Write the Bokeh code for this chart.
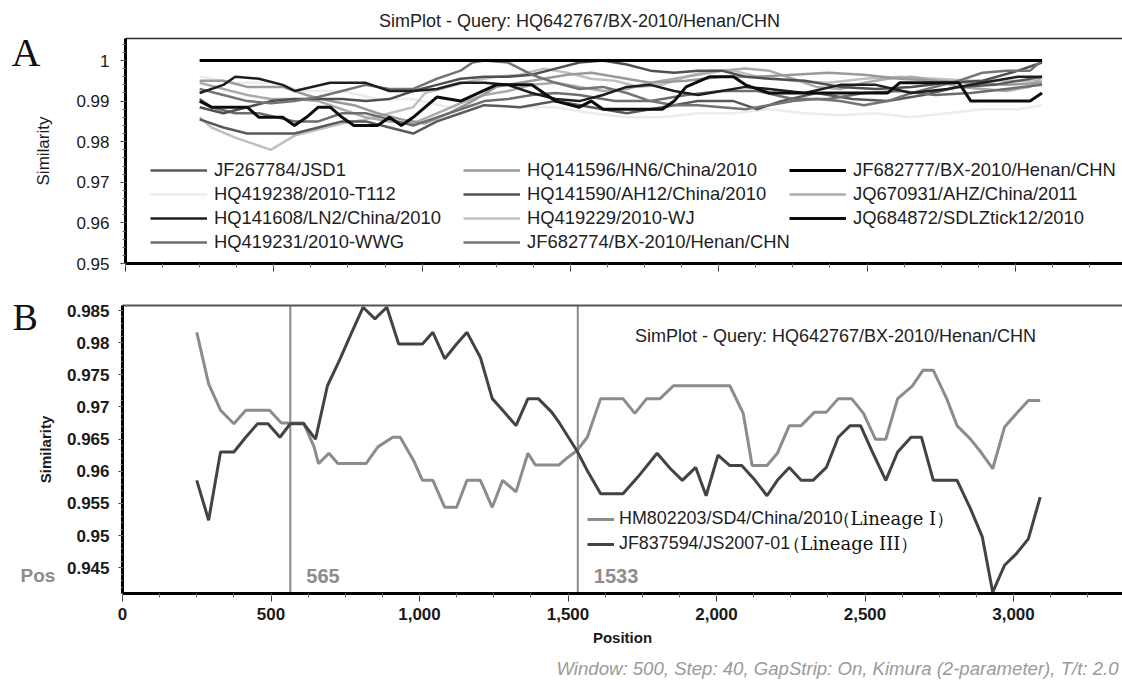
from bokeh.plotting import figure
from bokeh.models import (Range1d, LinearAxis, FixedTicker, SingleIntervalTicker, Label,
                          Legend, LegendItem, NumeralTickFormatter)
from bokeh.layouts import column
from bokeh.embed import file_html
from bokeh.resources import INLINE

FONT = "Liberation Sans"
SERIF = "Liberation Serif"

# ---------------- Panel A data ----------------
TITLE = "SimPlot - Query: HQ642767/BX-2010/Henan/CHN"
A_YTICKS = [0.95, 0.96, 0.97, 0.98, 0.99, 1.0]
A_YLABELS = ["0.95", "0.96", "0.97", "0.98", "0.99", "1"]

A_JF267784_X = [250, 330, 410, 570, 650, 730, 810, 890, 970, 1050, 1130, 1210, 1330, 1450, 1570, 1690, 1810, 1930, 2050, 2130, 2210, 2330, 2450, 2570, 2690, 2810, 2930, 3090]
A_JF267784_Y = [0.9855, 0.9835, 0.9820, 0.9820, 0.9835, 0.9850, 0.9850, 0.9835, 0.9820, 0.9850, 0.9870, 0.9890, 0.9885, 0.9900, 0.9885, 0.9870, 0.9885, 0.9900, 0.9900, 0.9880, 0.9900, 0.9920, 0.9905, 0.9900, 0.9915, 0.9935, 0.9940, 0.9960]

A_HQ419238_X = [250, 370, 490, 610, 730, 850, 970, 1090, 1210, 1330, 1450, 1570, 1690, 1810, 1930, 2050, 2170, 2290, 2410, 2530, 2650, 2770, 2890, 3010, 3090]
A_HQ419238_Y = [0.9960, 0.9945, 0.9945, 0.9925, 0.9925, 0.9905, 0.9905, 0.9885, 0.9890, 0.9885, 0.9885, 0.9870, 0.9860, 0.9860, 0.9870, 0.9870, 0.9880, 0.9870, 0.9865, 0.9870, 0.9860, 0.9870, 0.9880, 0.9880, 0.9890]

A_HQ141608_X = [250, 330, 370, 450, 530, 570, 690, 730, 810, 890, 970, 1050, 1130, 1210, 1290, 1370, 1450, 1530, 1610, 1690, 1770, 1850, 1930, 2010, 2090, 2170, 2290, 2410, 2530, 2650, 2770, 2890, 3010, 3090]
A_HQ141608_Y = [0.9920, 0.9940, 0.9960, 0.9955, 0.9940, 0.9925, 0.9945, 0.9945, 0.9945, 0.9925, 0.9925, 0.9930, 0.9945, 0.9945, 0.9940, 0.9920, 0.9905, 0.9900, 0.9915, 0.9935, 0.9940, 0.9925, 0.9915, 0.9925, 0.9935, 0.9930, 0.9920, 0.9940, 0.9940, 0.9920, 0.9930, 0.9945, 0.9960, 0.9960]

A_HQ419231_X = [250, 290, 370, 450, 570, 650, 730, 810, 890, 970, 1050, 1130, 1210, 1290, 1370, 1450, 1530, 1650, 1770, 1890, 2010, 2130, 2250, 2370, 2490, 2610, 2730, 2850, 2970, 3090]
A_HQ419231_Y = [0.9905, 0.9885, 0.9870, 0.9870, 0.9850, 0.9850, 0.9870, 0.9870, 0.9855, 0.9840, 0.9860, 0.9880, 0.9900, 0.9905, 0.9915, 0.9920, 0.9915, 0.9900, 0.9900, 0.9915, 0.9925, 0.9925, 0.9905, 0.9905, 0.9920, 0.9925, 0.9915, 0.9920, 0.9930, 0.9940]

A_HQ141596_X = [250, 330, 410, 530, 610, 690, 770, 850, 930, 1010, 1090, 1170, 1250, 1330, 1410, 1490, 1570, 1650, 1770, 1890, 2010, 2130, 2250, 2370, 2490, 2610, 2730, 2850, 2970, 3090]
A_HQ141596_Y = [0.9950, 0.9950, 0.9935, 0.9935, 0.9915, 0.9900, 0.9890, 0.9870, 0.9855, 0.9845, 0.9870, 0.9900, 0.9935, 0.9945, 0.9955, 0.9965, 0.9970, 0.9960, 0.9945, 0.9950, 0.9960, 0.9960, 0.9965, 0.9970, 0.9965, 0.9955, 0.9950, 0.9945, 0.9940, 0.9945]

A_HQ141590_X = [250, 330, 410, 490, 570, 650, 730, 810, 890, 970, 1050, 1130, 1210, 1290, 1370, 1450, 1530, 1610, 1690, 1770, 1850, 1930, 2010, 2090, 2170, 2290, 2410, 2530, 2650, 2770, 2890, 3010, 3090]
A_HQ141590_Y = [0.9885, 0.9870, 0.9885, 0.9900, 0.9905, 0.9905, 0.9905, 0.9900, 0.9905, 0.9925, 0.9940, 0.9955, 0.9960, 0.9960, 0.9965, 0.9980, 0.9995, 1.0000, 0.9990, 0.9975, 0.9970, 0.9975, 0.9975, 0.9960, 0.9955, 0.9950, 0.9935, 0.9930, 0.9935, 0.9945, 0.9950, 0.9975, 0.9995]

A_HQ419229_X = [250, 290, 370, 450, 490, 570, 650, 730, 810, 890, 970, 1010, 1090, 1170, 1250, 1330, 1410, 1490, 1570, 1650, 1730, 1810, 1890, 1970, 2050, 2130, 2250, 2370, 2490, 2610, 2730, 2850, 2970, 3090]
A_HQ419229_Y = [0.9860, 0.9835, 0.9810, 0.9790, 0.9780, 0.9815, 0.9830, 0.9845, 0.9855, 0.9870, 0.9885, 0.9920, 0.9935, 0.9950, 0.9960, 0.9965, 0.9980, 0.9970, 0.9955, 0.9950, 0.9935, 0.9940, 0.9960, 0.9975, 0.9975, 0.9960, 0.9950, 0.9945, 0.9955, 0.9960, 0.9955, 0.9950, 0.9950, 0.9950]

A_JF682774_X = [250, 330, 410, 490, 570, 650, 730, 810, 890, 970, 1050, 1130, 1170, 1210, 1290, 1370, 1450, 1530, 1610, 1690, 1770, 1850, 1930, 2010, 2090, 2170, 2250, 2330, 2410, 2490, 2570, 2650, 2730, 2810, 2890, 2970, 3050, 3090]
A_JF682774_Y = [0.9930, 0.9915, 0.9900, 0.9895, 0.9900, 0.9910, 0.9925, 0.9940, 0.9930, 0.9930, 0.9955, 0.9975, 0.9995, 1.0000, 0.9995, 0.9965, 0.9945, 0.9930, 0.9935, 0.9920, 0.9900, 0.9890, 0.9890, 0.9885, 0.9880, 0.9890, 0.9900, 0.9905, 0.9900, 0.9890, 0.9900, 0.9920, 0.9935, 0.9950, 0.9970, 0.9975, 0.9975, 1.0000]

A_JF682777_X = [250, 3090]
A_JF682777_Y = [1.0, 1.0]

A_JQ670931_X = [250, 330, 410, 490, 570, 650, 730, 810, 890, 970, 1050, 1130, 1210, 1290, 1370, 1450, 1530, 1610, 1690, 1770, 1850, 1930, 2010, 2090, 2170, 2250, 2330, 2410, 2490, 2570, 2650, 2730, 2810, 2890, 2970, 3050, 3090]
A_JQ670931_Y = [0.9945, 0.9930, 0.9915, 0.9905, 0.9905, 0.9900, 0.9880, 0.9860, 0.9850, 0.9845, 0.9870, 0.9895, 0.9915, 0.9925, 0.9940, 0.9945, 0.9935, 0.9925, 0.9930, 0.9945, 0.9955, 0.9965, 0.9975, 0.9980, 0.9975, 0.9955, 0.9935, 0.9930, 0.9945, 0.9955, 0.9960, 0.9950, 0.9935, 0.9930, 0.9925, 0.9935, 0.9960]

A_JQ684872_X = [250, 290, 410, 450, 530, 570, 610, 650, 690, 730, 770, 850, 890, 930, 970, 1050, 1130, 1250, 1290, 1370, 1410, 1450, 1530, 1570, 1610, 1810, 1850, 1890, 1970, 2050, 2090, 2170, 2570, 2610, 2810, 2850, 3050, 3090]
A_JQ684872_Y = [0.9900, 0.9885, 0.9885, 0.9860, 0.9860, 0.9840, 0.9860, 0.9885, 0.9885, 0.9860, 0.9840, 0.9840, 0.9860, 0.9840, 0.9860, 0.9910, 0.9900, 0.9940, 0.9940, 0.9940, 0.9920, 0.9900, 0.9885, 0.9900, 0.9880, 0.9880, 0.9900, 0.9935, 0.9960, 0.9960, 0.9940, 0.9920, 0.9920, 0.9945, 0.9945, 0.9900, 0.9900, 0.9920]

A_NAMES = ["JF267784/JSD1", "HQ419238/2010-T112", "HQ141608/LN2/China/2010", "HQ419231/2010-WWG",
           "HQ141596/HN6/China/2010", "HQ141590/AH12/China/2010", "HQ419229/2010-WJ", "JF682774/BX-2010/Henan/CHN",
           "JF682777/BX-2010/Henan/CHN", "JQ670931/AHZ/China/2011", "JQ684872/SDLZtick12/2010"]
A_COLORS = ["#5a5a5a", "#ececec", "#1e1e1e", "#6e6e6e",
            "#9a9a9a", "#505050", "#c0c0c0", "#747474",
            "#000000", "#ababab", "#0c0c0c"]
A_XS = [A_JF267784_X, A_HQ419238_X, A_HQ141608_X, A_HQ419231_X, A_HQ141596_X, A_HQ141590_X,
        A_HQ419229_X, A_JF682774_X, A_JF682777_X, A_JQ670931_X, A_JQ684872_X]
A_YS = [A_JF267784_Y, A_HQ419238_Y, A_HQ141608_Y, A_HQ419231_Y, A_HQ141596_Y, A_HQ141590_Y,
        A_HQ419229_Y, A_JF682774_Y, A_JF682777_Y, A_JQ670931_Y, A_JQ684872_Y]
A_DRAW_ORDER = [1, 6, 9, 4, 0, 3, 5, 7, 2, 10, 8]
A_LEGEND_COLS = [[0, 1, 2, 3], [4, 5, 6, 7], [8, 9, 10]]

# ---------------- Panel B data ----------------
B_YTICKS = [0.945, 0.95, 0.955, 0.96, 0.965, 0.97, 0.975, 0.98, 0.985]
B_YLABELS = ["0.945", "0.95", "0.955", "0.96", "0.965", "0.97", "0.975", "0.98", "0.985"]
BREAKPOINTS = [565, 1533]

B_HM802203_X = [250, 290, 330, 375, 415, 495, 535, 610, 645, 660, 695, 725, 820, 860, 910, 935, 980, 1010, 1045, 1085,
                1125, 1160, 1205, 1245, 1280, 1325, 1365, 1390, 1470, 1500, 1530, 1565, 1610, 1685, 1725, 1765, 1810, 1855, 2045, 2090,
                2120, 2170, 2205, 2245, 2285, 2330, 2370, 2410, 2455, 2495, 2535, 2570, 2610, 2660, 2695, 2730, 2775, 2810, 2855, 2890,
                2930, 2970, 3010, 3050, 3090]
B_HM802203_Y = [0.9816, 0.9736, 0.9695, 0.9674, 0.9695, 0.9695, 0.9675, 0.9675, 0.9638, 0.9612,
                0.9628, 0.9612, 0.9612, 0.9638, 0.9653, 0.9653, 0.9617, 0.9586, 0.9586, 0.9544,
                0.9544, 0.9586, 0.9586, 0.9544, 0.9586, 0.9568, 0.9628, 0.9610, 0.9610, 0.9622,
                0.9632, 0.9653, 0.9713, 0.9713, 0.9690, 0.9713, 0.9713, 0.9733, 0.9733, 0.9690,
                0.9609, 0.9609, 0.9628, 0.9671, 0.9671, 0.9692, 0.9692, 0.9713, 0.9713, 0.9690,
                0.9650, 0.9650, 0.9713, 0.9733, 0.9757, 0.9757, 0.9713, 0.9671, 0.9650, 0.9630,
                0.9604, 0.9669, 0.9690, 0.9710, 0.9710]

B_JF837594_X = [250, 290, 330, 375, 415, 455, 490, 530, 565, 610, 650, 690, 730, 770, 810, 850, 890, 930, 1010, 1045,
                1085, 1125, 1160, 1205, 1245, 1280, 1325, 1365, 1400, 1445, 1470, 1530, 1565, 1610, 1685, 1735, 1800, 1845, 1885, 1930,
                1965, 2005, 2045, 2085, 2130, 2170, 2205, 2245, 2285, 2325, 2370, 2410, 2450, 2485, 2525, 2570, 2610, 2655, 2690, 2730,
                2775, 2810, 2855, 2895, 2930, 2970, 3010, 3050, 3090]
B_JF837594_Y = [0.9586, 0.9524, 0.9630, 0.9630, 0.9653, 0.9674, 0.9674, 0.9653, 0.9674, 0.9674,
                0.9650, 0.9733, 0.9772, 0.9814, 0.9855, 0.9837, 0.9855, 0.9798, 0.9798, 0.9816,
                0.9775, 0.9798, 0.9816, 0.9777, 0.9713, 0.9695, 0.9671, 0.9713, 0.9713, 0.9692,
                0.9676, 0.9632, 0.9601, 0.9565, 0.9565, 0.9591, 0.9628, 0.9604, 0.9586, 0.9606,
                0.9562, 0.9625, 0.9609, 0.9609, 0.9586, 0.9562, 0.9586, 0.9606, 0.9586, 0.9586,
                0.9606, 0.9653, 0.9671, 0.9671, 0.9630, 0.9586, 0.9630, 0.9653, 0.9653, 0.9586,
                0.9586, 0.9586, 0.9542, 0.9498, 0.9412, 0.9454, 0.9472, 0.9495, 0.9560]

B_NAMES = ["HM802203/SD4/China/2010", "JF837594/JS2007-01"]
B_LINEAGE = ["（Lineage I）", "（Lineage III）"]
B_COLORS = ["#8c8c8c", "#434343"]
FOOTER = "Window: 500, Step: 40, GapStrip: On, Kimura (2-parameter), T/t: 2.0"

# ---------------- layout geometry (pixels) ----------------
W = 1122
HA, HB = 290, 392


def lin_range(v_a, px_a, v_b, px_b, size):
    k = (v_b - v_a) / (px_b - px_a)
    return v_a - px_a * k, v_a + (size - px_a) * k, k


def base_fig(h, xr, yr):
    p = figure(width=W, height=h, output_backend="svg", toolbar_location=None,
               x_axis_type=None, y_axis_type=None,
               x_range=Range1d(*xr), y_range=Range1d(*yr),
               min_border=0, min_border_left=0, min_border_right=0,
               min_border_top=0, min_border_bottom=0)
    p.outline_line_color = None
    p.background_fill_color = "white"
    p.border_fill_color = "white"
    return p


def style_axis(ax, lw=3):
    ax.axis_line_width = lw
    ax.axis_line_color = "black"
    ax.major_tick_in = 0
    ax.minor_tick_in = 0
    ax.major_tick_line_color = "#333333"
    ax.minor_tick_line_color = "#666666"


# ---------------- Figure A ----------------
ax0, ax1, _ = lin_range(0, 125, 500, 273.3, W)
ay0, ay1, aky = lin_range(0.95, 27, 1.0, 230, HA)
A_TOP = 0.95 + (252 - 27) * aky
pA = base_fig(HA, (ax0, ax1), (ay0, ay1))

ya = LinearAxis(fixed_location=0, bounds=(0.95, A_TOP),
                ticker=FixedTicker(ticks=A_YTICKS, minor_ticks=[round(0.95 + 0.002 * i, 4) for i in range(28)]))
ya.major_label_overrides = {t: s for t, s in zip(A_YTICKS, A_YLABELS)}
style_axis(ya)
ya.major_tick_out = 5
ya.minor_tick_out = 3
ya.major_label_text_font = FONT
ya.major_label_text_font_size = "17px"
ya.major_label_text_color = "#1a1a1a"
ya.major_label_standoff = 11
ya.axis_label = "Similarity"
ya.axis_label_text_font = FONT
ya.axis_label_text_font_size = "17px"
ya.axis_label_text_font_style = "normal"
ya.axis_label_text_color = "#1a1a1a"
ya.axis_label_standoff = 20
pA.add_layout(ya, "left")

xa = LinearAxis(fixed_location=0.95, bounds=(0, ax1),
                ticker=SingleIntervalTicker(interval=500, num_minor_ticks=4))
style_axis(xa)
xa.major_tick_out = 8
xa.minor_tick_out = 4
xa.major_label_text_color = None
xa.major_label_text_font_size = "10px"
pA.add_layout(xa, "below")

topA = LinearAxis(fixed_location=A_TOP, bounds=(0, ax1), ticker=FixedTicker(ticks=[]),
                  axis_line_width=1.5, axis_line_color="#2a2a2a",
                  major_tick_line_color=None, minor_tick_line_color=None)
pA.add_layout(topA, "above")

rendA = {}
for i in A_DRAW_ORDER:
    lw = 3 if A_COLORS[i] in ("#000000", "#0c0c0c") else 2.5
    rendA[i] = pA.line(A_XS[i], A_YS[i], line_color=A_COLORS[i], line_width=lw)

legA_x = [150, 463, 789]
legA_y = [37, 37, 61]
for col, lx, ly in zip(A_LEGEND_COLS, legA_x, legA_y):
    leg = Legend(items=[LegendItem(label=A_NAMES[i], renderers=[rendA[i]]) for i in col],
                 location=(lx, ly), orientation="vertical",
                 label_text_font=FONT, label_text_font_size="18.4px", label_text_color="#1e1e1e",
                 glyph_width=57, glyph_height=20, label_height=20, label_standoff=7,
                 spacing=2, padding=0, margin=0, border_line_color=None, background_fill_alpha=0)
    pA.add_layout(leg, "center")

pA.add_layout(Label(x=579, y=HA - 20, x_units="screen", y_units="screen", text=TITLE,
                    text_font=FONT, text_font_size="18px", text_color="#222222",
                    text_align="center", text_baseline="middle"))
pA.add_layout(Label(x=11, y=HA - 52, x_units="screen", y_units="screen", text="A",
                    text_font=SERIF, text_font_size="40px", text_color="#111111",
                    text_align="left", text_baseline="alphabetic"))

# ---------------- Figure B ----------------
bx0, bx1, _ = lin_range(0, 122, 500, 270.5, W)
by0, by1, bky = lin_range(0.945, 114.7, 0.985, 372, HB)
B_BOTTOM = 0.945 + (89 - 114.7) * bky
B_TOP = 0.945 + (377 - 114.7) * bky
pB = base_fig(HB, (bx0, bx1), (by0, by1))

yb = LinearAxis(fixed_location=0, bounds=(B_BOTTOM, B_TOP),
                ticker=FixedTicker(ticks=B_YTICKS, minor_ticks=[round(0.941 + 0.001 * i, 4) for i in range(45)]))
yb.major_label_overrides = {t: s for t, s in zip(B_YTICKS, B_YLABELS)}
style_axis(yb)
yb.major_tick_out = 4
yb.minor_tick_out = 2
yb.minor_tick_line_color = "#8a8a8a"
yb.major_label_text_font = FONT
yb.major_label_text_font_size = "17px"
yb.major_label_text_font_style = "bold"
yb.major_label_text_color = "#1a1a1a"
yb.major_label_standoff = 9
yb.axis_label = "Similarity"
yb.axis_label_text_font = FONT
yb.axis_label_text_font_size = "15px"
yb.axis_label_text_font_style = "bold"
yb.axis_label_text_color = "#1a1a1a"
yb.axis_label_standoff = 10
pB.add_layout(yb, "left")

xb = LinearAxis(fixed_location=B_BOTTOM, bounds=(0, bx1),
                ticker=SingleIntervalTicker(interval=500, num_minor_ticks=4),
                formatter=NumeralTickFormatter(format="0,0"))
style_axis(xb)
xb.major_tick_out = 8
xb.minor_tick_out = 4
xb.major_label_text_font = FONT
xb.major_label_text_font_size = "17px"
xb.major_label_text_font_style = "bold"
xb.major_label_text_color = "#1a1a1a"
xb.major_label_standoff = 6
xb.axis_label = "Position"
xb.axis_label_text_font = FONT
xb.axis_label_text_font_size = "15px"
xb.axis_label_text_font_style = "bold"
xb.axis_label_text_color = "#1a1a1a"
xb.axis_label_standoff = 6
pB.add_layout(xb, "below")

topB = LinearAxis(fixed_location=B_TOP, bounds=(0, bx1), ticker=FixedTicker(ticks=[]),
                  axis_line_width=2, axis_line_color="#555555",
                  major_tick_line_color=None, minor_tick_line_color=None)
pB.add_layout(topB, "above")

pB.segment(x0=BREAKPOINTS, y0=[B_BOTTOM] * len(BREAKPOINTS), x1=BREAKPOINTS, y1=[B_TOP] * len(BREAKPOINTS),
           line_color="#8a8a8a", line_width=2)
for bp in BREAKPOINTS:
    pB.add_layout(Label(x=bp, y=107, x_units="data", y_units="screen", x_offset=16, text=str(bp),
                        text_font=FONT, text_font_size="20px", text_font_style="bold",
                        text_color="#8c8c8c", text_align="left", text_baseline="middle"))

rB0 = pB.line(B_HM802203_X, B_HM802203_Y, line_color=B_COLORS[0], line_width=3)
rB1 = pB.line(B_JF837594_X, B_JF837594_Y, line_color=B_COLORS[1], line_width=3)

legB = Legend(items=[LegendItem(label=B_NAMES[0], renderers=[rB0]),
                     LegendItem(label=B_NAMES[1], renderers=[rB1])],
              location=(587, 128), orientation="vertical",
              label_text_font=FONT, label_text_font_size="17.9px", label_text_color="#1e1e1e",
              glyph_width=27, glyph_height=20, label_height=20, label_standoff=5,
              spacing=4, padding=0, margin=0, border_line_color=None, background_fill_alpha=0)
pB.add_layout(legB, "center")

for txt, lx, ly in zip(B_LINEAGE, [832, 782], [164, 139]):
    pB.add_layout(Label(x=lx, y=ly, x_units="screen", y_units="screen", text=txt,
                        text_font="DejaVu Serif", text_font_size="18px", text_color="#111111",
                        text_align="left", text_baseline="middle"))

pB.add_layout(Label(x=835, y=HB - 45, x_units="screen", y_units="screen", text=TITLE,
                    text_font=FONT, text_font_size="18px", text_color="#222222",
                    text_align="center", text_baseline="middle"))
pB.add_layout(Label(x=12, y=HB - 26, x_units="screen", y_units="screen", text="B",
                    text_font=SERIF, text_font_size="38px", text_color="#111111",
                    text_align="left", text_baseline="alphabetic"))
pB.add_layout(Label(x=20, y=107, x_units="screen", y_units="screen", text="Pos",
                    text_font=FONT, text_font_size="19px", text_font_style="bold",
                    text_color="#8c8c8c", text_align="left", text_baseline="middle"))
pB.add_layout(Label(x=1118, y=14, x_units="screen", y_units="screen", text=FOOTER,
                    text_font=FONT, text_font_size="18.6px", text_font_style="italic",
                    text_color="#9a9a9a", text_align="right", text_baseline="middle"))

layout = column(pA, pB, spacing=0)
open("out.html", "w").write(file_html(layout, INLINE))
